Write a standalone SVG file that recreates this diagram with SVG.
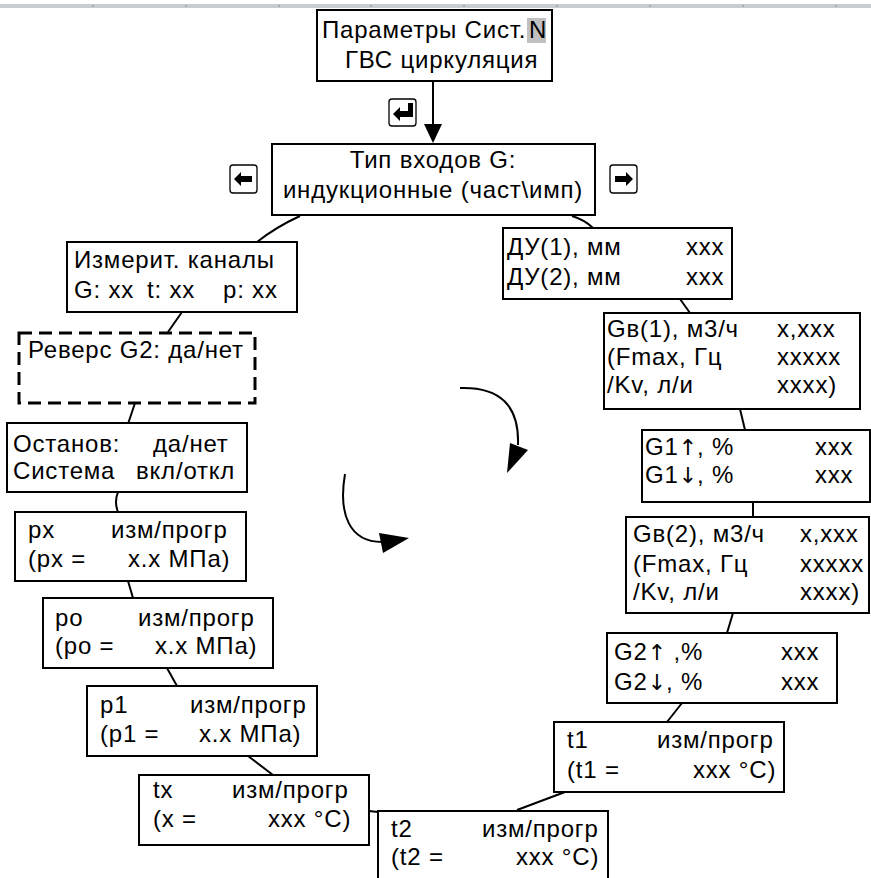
<svg xmlns="http://www.w3.org/2000/svg" width="871" height="878" viewBox="0 0 871 878">
<style>
.b{fill:#fff;stroke:#000;stroke-width:2}
.d{fill:#fff;stroke:#000;stroke-width:3;stroke-dasharray:13 7}
text{font-family:"Liberation Sans",Arial,sans-serif;font-size:24px;letter-spacing:0.8px;fill:#000}
.a{font-family:"DejaVu Sans",sans-serif;font-size:22px;letter-spacing:0}
.c{fill:none;stroke:#000;stroke-width:2}
.k{fill:#fff;stroke:#000;stroke-width:1.3}
</style>
<rect width="871" height="878" fill="#fff"/>
<g id="ruler">
<rect x="0" y="4" width="871" height="4" fill="#c9cdd2"/>
<g stroke="#8a8e93" stroke-width="1">
<line x1="93" y1="5" x2="93" y2="7"/><line x1="186" y1="5" x2="186" y2="7"/><line x1="279" y1="5" x2="279" y2="7"/><line x1="371" y1="5" x2="371" y2="7"/><line x1="464" y1="5" x2="464" y2="7"/><line x1="557" y1="5" x2="557" y2="7"/><line x1="650" y1="5" x2="650" y2="7"/><line x1="743" y1="5" x2="743" y2="7"/><line x1="836" y1="5" x2="836" y2="7"/>
</g>
</g>
<g id="connectors">
<line class="c" x1="433" y1="81" x2="433" y2="126"/>
<polygon points="424,124 442,124 433,143" fill="#000"/>
<path class="c" d="M300,216 Q276,227 257,242"/>
<path class="c" d="M572,216 Q585,220 593,228"/>
<path class="c" d="M182,312 L168,332"/>
<path class="c" d="M135,403 L128,424"/>
<path class="c" d="M118,492 Q114,502 118,512"/>
<path class="c" d="M128,581 L133,598"/>
<path class="c" d="M167,668 L177,686"/>
<path class="c" d="M248,756 L273,775"/>
<path class="c" d="M369,811 L378,812"/>
<path class="c" d="M565,792 L517,810"/>
<path class="c" d="M682,703 L667,722"/>
<path class="c" d="M733,613 L727,633"/>
<path class="c" d="M753,502 L753,517"/>
<path class="c" d="M740,409 L745,430"/>
<path class="c" d="M680,299 L690,313"/>
<path class="c" d="M460,388 Q520,386 518,445"/>
<polygon points="510,443 528,450 507,473" fill="#000"/>
<path class="c" d="M345,474 C338,515 350,542 382,542"/>
<polygon points="379,533 383,553 409,538" fill="#000"/>
</g>
<g id="key-enter">
<rect class="k" x="389" y="99" width="27" height="27" rx="3"/>
<path d="M393,114 L400,107 L400,111 L408,111 L408,103 L413,103 L413,117 L400,117 L400,121 Z" fill="#000"/>
</g>
<g id="key-left">
<rect class="k" x="230" y="165" width="27" height="28" rx="3"/>
<path d="M234,179 L241,172 L241,176 L252,176 L252,182 L241,182 L241,186 Z" fill="#000"/>
</g>
<g id="key-right">
<rect class="k" x="610" y="165" width="27" height="28" rx="3"/>
<path d="M633,179 L626,172 L626,176 L615,176 L615,182 L626,182 L626,186 Z" fill="#000"/>
</g>
<g id="n-params">
<rect class="b" x="317" y="10" width="235" height="71"/>
<rect x="527" y="18" width="19" height="25" fill="#c0c0c0"/>
<text x="322" y="38">Параметры Сист.</text>
<text x="529" y="38">N</text>
<text x="345" y="68">ГВС циркуляция</text>
</g>
<g id="n-type">
<rect class="b" x="272" y="144" width="323" height="71"/>
<text x="433" y="168" text-anchor="middle">Тип входов G:</text>
<text x="433" y="198" text-anchor="middle">индукционные (част\имп)</text>
</g>
<g id="n-channels">
<rect class="b" x="67" y="242" width="230" height="70"/>
<text x="74" y="268">Измерит. каналы</text>
<text x="74" y="298">G: xx</text>
<text x="147" y="298">t: xx</text>
<text x="223" y="298">p: xx</text>
</g>
<g id="n-reverse">
<rect class="d" x="19" y="333" width="236" height="70"/>
<text x="28" y="358">Реверс G2: да/нет</text>
</g>
<g id="n-stop">
<rect class="b" x="7" y="423" width="240" height="69"/>
<text x="13" y="452">Останов:</text>
<text x="153" y="452">да/нет</text>
<text x="13" y="479">Система</text>
<text x="136" y="479">вкл/откл</text>
</g>
<g id="n-px">
<rect class="b" x="15" y="512" width="231" height="69"/>
<text x="28" y="538">px</text>
<text x="111" y="538">изм/прогр</text>
<text x="28" y="567">(px  =</text>
<text x="128" y="567">x.x МПа)</text>
</g>
<g id="n-po">
<rect class="b" x="43" y="598" width="230" height="70"/>
<text x="55" y="626">po</text>
<text x="138" y="626">изм/прогр</text>
<text x="55" y="654">(po =</text>
<text x="155" y="654">x.x МПа)</text>
</g>
<g id="n-p1">
<rect class="b" x="87" y="686" width="230" height="70"/>
<text x="100" y="713">p1</text>
<text x="190" y="713">изм/прогр</text>
<text x="100" y="742">(p1 =</text>
<text x="199" y="742">x.x МПа)</text>
</g>
<g id="n-tx">
<rect class="b" x="139" y="775" width="230" height="70"/>
<text x="153" y="798">tx</text>
<text x="232" y="798">изм/прогр</text>
<text x="153" y="827">(x =</text>
<text x="268" y="827">xxx °C)</text>
</g>
<g id="n-t2">
<rect class="b" x="378" y="811" width="230" height="80"/>
<text x="391" y="837">t2</text>
<text x="482" y="837">изм/прогр</text>
<text x="391" y="865">(t2 =</text>
<text x="516" y="865">xxx °C)</text>
</g>
<g id="n-du">
<rect class="b" x="503" y="228" width="229" height="71"/>
<text x="507" y="255">ДУ(1), мм</text>
<text x="686" y="255">xxx</text>
<text x="507" y="285">ДУ(2), мм</text>
<text x="686" y="285">xxx</text>
</g>
<g id="n-gv1">
<rect class="b" x="604" y="313" width="256" height="96"/>
<text x="607" y="337">Gв(1), м3/ч</text>
<text x="777" y="337">x,xxx</text>
<text x="607" y="365">(Fmax, Гц</text>
<text x="777" y="365">xxxxx</text>
<text x="607" y="393">/Kv, л/и</text>
<text x="777" y="393">xxxx)</text>
</g>
<g id="n-g1">
<rect class="b" x="642" y="430" width="228" height="72"/>
<text x="645" y="455">G1<tspan class="a">↑</tspan>, %</text>
<text x="815" y="455">xxx</text>
<text x="645" y="483">G1<tspan class="a">↓</tspan>, %</text>
<text x="815" y="483">xxx</text>
</g>
<g id="n-gv2">
<rect class="b" x="626" y="517" width="243" height="96"/>
<text x="633" y="542">Gв(2), м3/ч</text>
<text x="800" y="542">x,xxx</text>
<text x="633" y="572">(Fmax, Гц</text>
<text x="800" y="572">xxxxx</text>
<text x="633" y="600">/Kv, л/и</text>
<text x="800" y="600">xxxx)</text>
</g>
<g id="n-g2">
<rect class="b" x="607" y="633" width="230" height="70"/>
<text x="614" y="660">G2<tspan class="a">↑</tspan> ,%</text>
<text x="781" y="660">xxx</text>
<text x="614" y="690">G2<tspan class="a">↓</tspan>, %</text>
<text x="781" y="690">xxx</text>
</g>
<g id="n-t1">
<rect class="b" x="554" y="722" width="230" height="70"/>
<text x="567" y="748">t1</text>
<text x="657" y="748">изм/прогр</text>
<text x="567" y="778">(t1 =</text>
<text x="693" y="778">xxx °C)</text>
</g>
</svg>
